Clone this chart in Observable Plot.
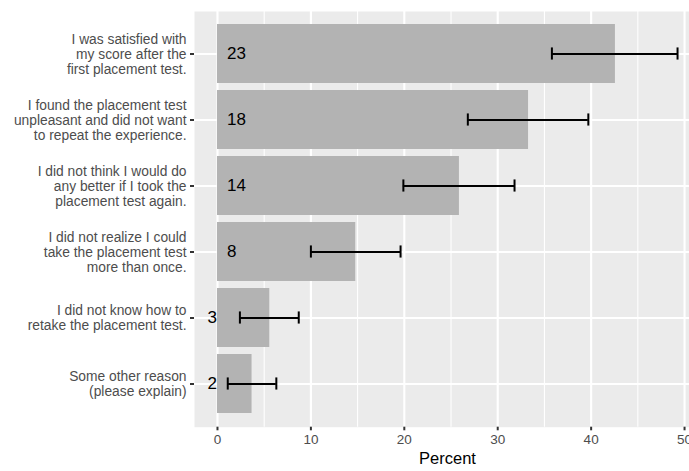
<!DOCTYPE html>
<html><head><meta charset="utf-8">
<script src="https://cdn.jsdelivr.net/npm/d3@7"></script>
<script src="https://cdn.jsdelivr.net/npm/@observablehq/plot@0.6"></script>
<style>
body{margin:0;background:#fff;overflow:hidden}
#chart svg{font-family:"Liberation Sans",Arial,sans-serif}
</style>
</head><body><div id="chart"></div>
<script>
const reasons = [
  "I was satisfied with\nmy score after the\nfirst placement test.",
  "I found the placement test\nunpleasant and did not want\nto repeat the experience.",
  "I did not think I would do\nany better if I took the\nplacement test again.",
  "I did not realize I could\ntake the placement test\nmore than once.",
  "I did not know how to\nretake the placement test.",
  "Some other reason\n(please explain)"
];
const counts   = [23, 18, 14, 8, 3, 2];
const percents = [42.6, 33.3, 25.9, 14.8, 5.6, 3.7];
const lowers   = [35.8, 26.8, 19.9, 10.0, 2.4, 1.1];
const uppers   = [49.25, 39.7, 31.8, 19.6, 8.7, 6.3];
const xTicks = [0, 10, 20, 30, 40, 50];
const xMinor = [5, 15, 25, 35, 45];
const xTitle = "Percent";

const data = reasons.map((r, i) => ({reason: r, count: counts[i], pct: percents[i], lo: lowers[i], hi: uppers[i]}));

const W = 689, H = 471, mT = 11, mB = 44.3, mL = 194;
const pIn = 0.1, pOut = 0.155;
const step = (H - mT - mB) / (reasons.length - pIn + 2 * pOut);
const capInset = (step * (1 - pIn) - 0.2 * step) / 2;

const chart = Plot.plot({
  width: W, height: H,
  marginTop: mT, marginBottom: mB, marginLeft: mL, marginRight: 0,
  style: {fontFamily: '"Liberation Sans", Arial, sans-serif', background: "#fff", overflow: "hidden"},
  x: {domain: [-2.46, 50.53]},
  y: {type: "band", domain: reasons, paddingInner: pIn, paddingOuter: pOut},
  marks: [
    Plot.frame({fill: "#EBEBEB", stroke: null}),
    Plot.gridX(xMinor, {stroke: "#fff", strokeOpacity: 1, strokeWidth: 1.07}),
    Plot.gridX(xTicks, {stroke: "#fff", strokeOpacity: 1, strokeWidth: 2.13}),
    Plot.gridY({stroke: "#fff", strokeOpacity: 1, strokeWidth: 2.13}),
    Plot.barX(data, {x: "pct", y: "reason", fill: "#B3B3B3"}),
    Plot.ruleY(data, {y: "reason", x1: "lo", x2: "hi", stroke: "#000", strokeWidth: 2}),
    Plot.tickX(data, {x: "lo", y: "reason", stroke: "#000", strokeWidth: 2, insetTop: capInset, insetBottom: capInset}),
    Plot.tickX(data, {x: "hi", y: "reason", stroke: "#000", strokeWidth: 2, insetTop: capInset, insetBottom: capInset}),
    Plot.text(data, {filter: d => d.lo >= 5, x: 0, y: "reason", text: d => String(d.count), textAnchor: "start", dx: 9.5, fontSize: 17, fill: "#000"}),
    Plot.text(data, {filter: d => d.lo < 5, x: 0, y: "reason", text: d => String(d.count), textAnchor: "end", dx: -0.5, fontSize: 17, fill: "#000"}),
    Plot.axisY({tickSize: 4, tickPadding: 4, fontSize: 13.8, lineHeight: 1.09, color: "#4D4D4D", stroke: "#333", strokeWidth: 2, label: null}),
    Plot.axisX(xTicks, {tickSize: 3.6, tickPadding: 3.5, fontSize: 13.5, color: "#4D4D4D", stroke: "#333", strokeWidth: 2, label: null}),
    Plot.text([xTitle], {frameAnchor: "bottom", lineAnchor: "middle", text: d => d, dx: 5.5, dy: 32, fontSize: 16.5, fill: "#000"})
  ]
});
document.getElementById("chart").appendChild(chart);
</script>
</body></html>
